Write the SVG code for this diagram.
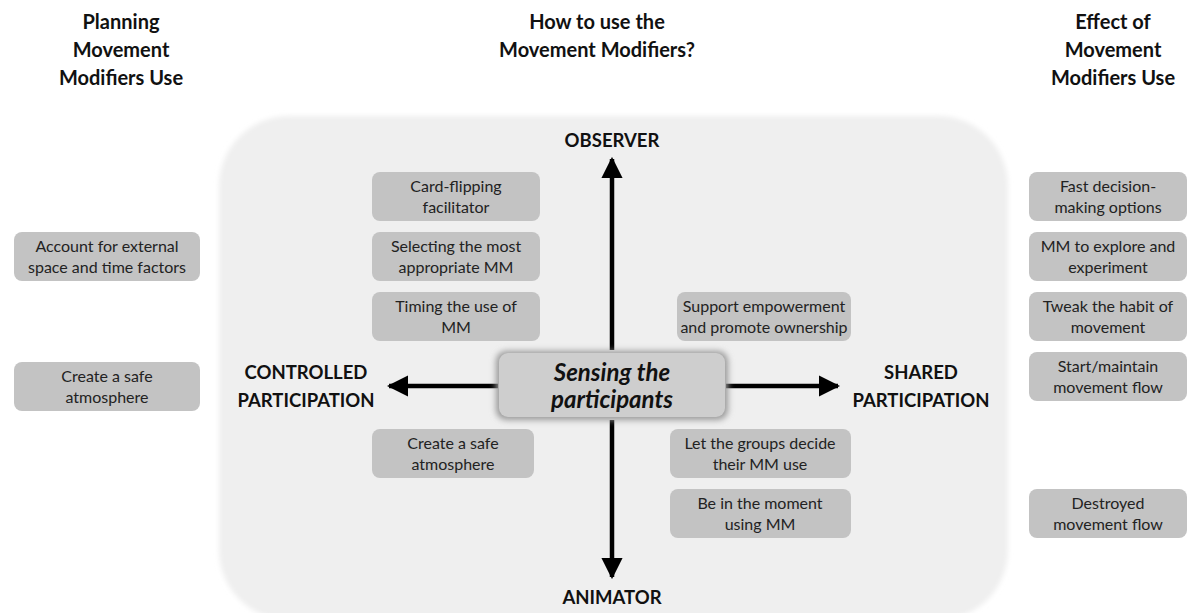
<svg xmlns="http://www.w3.org/2000/svg" width="1192" height="613" viewBox="0 0 1192 613">
<style>
.t{font-family:Lato,"Liberation Sans",sans-serif;font-weight:700;font-size:20px;fill:#111;text-anchor:middle}
.b{fill:#c3c3c3}
.bt{font-family:Lato,"Liberation Sans",sans-serif;font-size:16px;fill:#222;text-anchor:middle}
.ax{font-family:Lato,"Liberation Sans",sans-serif;font-weight:700;font-size:18.5px;fill:#111;text-anchor:middle}
.ct{font-family:Lato,"Liberation Sans",sans-serif;font-size:24px;font-weight:700;font-style:italic;fill:#111;text-anchor:middle}
.ln{stroke:#000;stroke-width:4.5;fill:none}
</style>
<defs>
<filter id="soft" x="-5%" y="-5%" width="110%" height="110%"><feGaussianBlur stdDeviation="2.5"/></filter>
<filter id="sh" x="-20%" y="-40%" width="140%" height="180%"><feGaussianBlur stdDeviation="3"/></filter>
<marker id="ah" viewBox="0 0 10 10" refX="9" refY="5" markerWidth="4.8" markerHeight="4.8" orient="auto" markerUnits="strokeWidth"><path d="M0,0 L10,5 L0,10 z" fill="#000"/></marker>
</defs>
<rect width="1192" height="613" fill="#fff"/>
<rect x="219" y="116" width="789" height="504" rx="70" fill="#efefef" filter="url(#soft)"/>

<g id="titles">
<text class="t" x="121" y="29">Planning</text>
<text class="t" x="121" y="57">Movement</text>
<text class="t" x="121" y="85">Modifiers Use</text>
<text class="t" x="597" y="29">How to use the</text>
<text class="t" x="597" y="57">Movement Modifiers?</text>
<text class="t" x="1113" y="29">Effect of</text>
<text class="t" x="1113" y="57">Movement</text>
<text class="t" x="1113" y="85">Modifiers Use</text>
</g>

<g id="axis-labels">
<text class="ax" x="306" y="379">CONTROLLED</text>
<text class="ax" x="306" y="407">PARTICIPATION</text>
<text class="ax" x="921" y="379">SHARED</text>
<text class="ax" x="921" y="407">PARTICIPATION</text>
<text class="ax" x="612" y="147">OBSERVER</text>
<text class="ax" x="612" y="604">ANIMATOR</text>
</g>

<g id="connectors">
<line class="ln" x1="612" y1="350" x2="612" y2="159" marker-end="url(#ah)"/>
<line class="ln" x1="612" y1="420" x2="612" y2="577" marker-end="url(#ah)"/>
<line class="ln" x1="498" y1="386" x2="389" y2="386" marker-end="url(#ah)"/>
<line class="ln" x1="726" y1="386" x2="838" y2="386" marker-end="url(#ah)"/>
</g>

<g id="center">
<rect x="496" y="351" width="232" height="69" rx="10" fill="#999" filter="url(#sh)"/>
<rect x="499" y="353" width="226" height="64" rx="9" fill="#cecece"/>
<text class="ct" x="612" y="381">Sensing the</text>
<text class="ct" x="612" y="408">participants</text>
</g>

<g id="n-account"><rect class="b" x="14" y="232" width="186" height="49" rx="8"/><text class="bt" x="107" y="252">Account for external</text><text class="bt" x="107" y="273">space and time factors</text></g>
<g id="n-safe-outer"><rect class="b" x="14" y="362" width="186" height="49" rx="8"/><text class="bt" x="107" y="382">Create a safe</text><text class="bt" x="107" y="403">atmosphere</text></g>

<g id="n-card"><rect class="b" x="372" y="172" width="168" height="49" rx="8"/><text class="bt" x="456" y="192">Card-flipping</text><text class="bt" x="456" y="213">facilitator</text></g>
<g id="n-select"><rect class="b" x="372" y="232" width="168" height="49" rx="8"/><text class="bt" x="456" y="252">Selecting the most</text><text class="bt" x="456" y="273">appropriate MM</text></g>
<g id="n-timing"><rect class="b" x="372" y="292" width="168" height="49" rx="8"/><text class="bt" x="456" y="312">Timing the use of</text><text class="bt" x="456" y="333">MM</text></g>
<g id="n-safe-inner"><rect class="b" x="372" y="429" width="162" height="49" rx="8"/><text class="bt" x="453" y="449">Create a safe</text><text class="bt" x="453" y="470">atmosphere</text></g>

<g id="n-support"><rect class="b" x="677" y="292" width="174" height="49" rx="8"/><text class="bt" x="764" y="312">Support empowerment</text><text class="bt" x="764" y="333">and promote ownership</text></g>
<g id="n-groups"><rect class="b" x="670" y="429" width="181" height="49" rx="8"/><text class="bt" x="760" y="449">Let the groups decide</text><text class="bt" x="760" y="470">their MM use</text></g>
<g id="n-moment"><rect class="b" x="670" y="489" width="181" height="49" rx="8"/><text class="bt" x="760" y="509">Be in the moment</text><text class="bt" x="760" y="530">using MM</text></g>

<g id="n-fast"><rect class="b" x="1029" y="172" width="158" height="49" rx="8"/><text class="bt" x="1108" y="192">Fast decision-</text><text class="bt" x="1108" y="213">making options</text></g>
<g id="n-explore"><rect class="b" x="1029" y="232" width="158" height="49" rx="8"/><text class="bt" x="1108" y="252">MM to explore and</text><text class="bt" x="1108" y="273">experiment</text></g>
<g id="n-tweak"><rect class="b" x="1029" y="292" width="158" height="49" rx="8"/><text class="bt" x="1108" y="312">Tweak the habit of</text><text class="bt" x="1108" y="333">movement</text></g>
<g id="n-start"><rect class="b" x="1029" y="352" width="158" height="49" rx="8"/><text class="bt" x="1108" y="372">Start/maintain</text><text class="bt" x="1108" y="393">movement flow</text></g>
<g id="n-destroyed"><rect class="b" x="1029" y="489" width="158" height="49" rx="8"/><text class="bt" x="1108" y="509">Destroyed</text><text class="bt" x="1108" y="530">movement flow</text></g>
</svg>
